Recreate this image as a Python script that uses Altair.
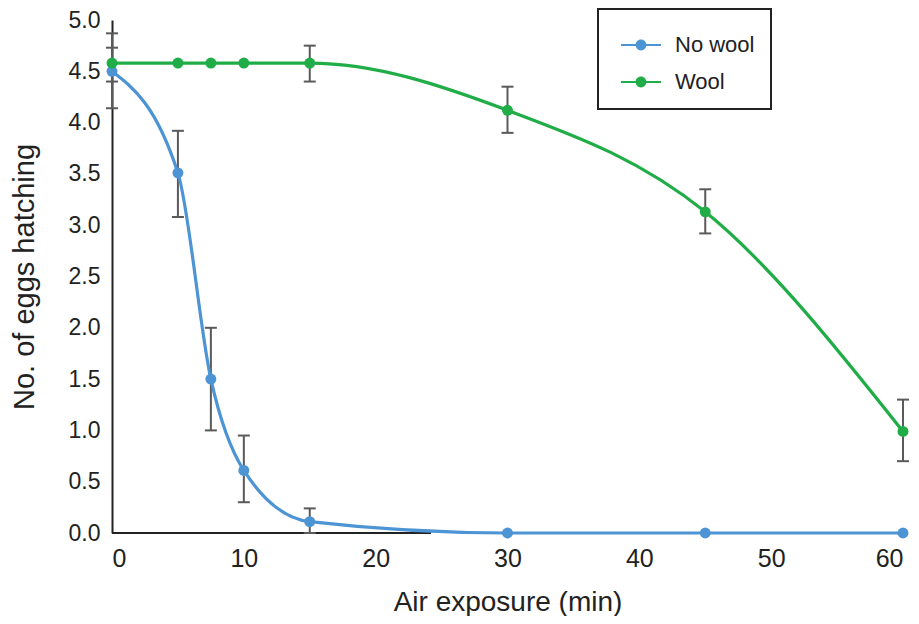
import altair as alt
import pandas as pd

# ---- data ----
minutes = [0, 5, 7.5, 10, 15, 30, 45, 60]
no_wool = [4.50, 3.51, 1.50, 0.61, 0.11, 0.0, 0.0, 0.0]
no_wool_lo = [4.14, 3.08, 1.00, 0.30, 0.0, None, None, None]
no_wool_hi = [4.87, 3.92, 2.00, 0.95, 0.24, None, None, None]
wool = [4.58, 4.58, 4.58, 4.58, 4.58, 4.12, 3.13, 0.99]
wool_lo = [4.40, None, None, None, 4.40, 3.90, 2.92, 0.70]
wool_hi = [4.73, None, None, None, 4.75, 4.35, 3.35, 1.30]
series_names = ["No wool", "Wool"]
series_colors = ["#4d94d5", "#20ad47"]
x_ticks = [0, 10, 20, 30, 40, 50, 60]
y_ticks = [0, 0.5, 1, 1.5, 2, 2.5, 3, 3.5, 4, 4.5, 5]
axis_line_x = [0, 24.2]

rows = []
err = []
for name, vals, lo, hi in [("No wool", no_wool, no_wool_lo, no_wool_hi),
                           ("Wool", wool, wool_lo, wool_hi)]:
    for m, v, l, h in zip(minutes, vals, lo, hi):
        rows.append({"min": m, "val": v, "series": name})
        if l is not None:
            err.append({"min": m, "lo": l, "hi": h, "series": name})
df = pd.DataFrame(rows)
df_err = pd.DataFrame(err)
df_axis = pd.DataFrame({"x": [axis_line_x[0]], "x2": [axis_line_x[1]], "y": [0]})

FONT = "Liberation Sans"
TXT = "#222222"
ERR = "#5a5a5a"

xs = alt.Scale(domain=[0, 60], nice=False, zero=False)
ys = alt.Scale(domain=[0, 5], nice=False)

x_enc = alt.X("min:Q", scale=xs, axis=alt.Axis(
    values=x_ticks, title="Air exposure (min)", domain=False, ticks=False,
    grid=False, labelFontSize=25, labelColor=TXT, labelPadding=13,
    titleFontSize=28, titleColor=TXT, titleFontWeight="normal", titlePadding=17,
    labelFont=FONT, titleFont=FONT))
y_enc = alt.Y("val:Q", scale=ys, axis=alt.Axis(
    values=y_ticks, format=".1f", title="No. of eggs hatching", domain=True,
    domainColor=TXT, domainWidth=2, ticks=False, grid=False,
    labelFontSize=23, labelColor=TXT, labelPadding=12,
    titleFontSize=29, titleColor=TXT, titleFontWeight="normal", titlePadding=29,
    labelFont=FONT, titleFont=FONT))

cscale = alt.Scale(domain=series_names, range=series_colors)

# line segment (as thin filled bar) + dot, both clockwise so they fill together
sym = ("M-1,-0.045L1,-0.045L1,0.045L-1,0.045Z"
       "M-0.27,0A0.27,0.27 0 1,1 0.27,0A0.27,0.27 0 1,1 -0.27,0Z")

leg = alt.Legend(
    title=None, orient="none", legendX=486, legendY=-11,
    symbolType=sym, symbolSize=1600, symbolStrokeWidth=0, symbolOffset=7,
    labelFontSize=22, labelColor=TXT, labelFont=FONT, labelOffset=14,
    labelExpr="datum.label + '\u00a0\u00a0\u00a0\u00a0\u00a0'",
    padding=16, rowPadding=6, strokeColor=TXT, fillColor="white")

axis_rule = alt.Chart(df_axis).mark_rule(color=TXT, strokeWidth=2).encode(
    x=alt.X("x:Q", scale=xs), x2="x2:Q", y=alt.Y("y:Q", scale=ys))

err_rule = alt.Chart(df_err).mark_rule(color=ERR, strokeWidth=2).encode(
    x=alt.X("min:Q", scale=xs), y=alt.Y("lo:Q", scale=ys), y2="hi:Q")
err_lo = alt.Chart(df_err).mark_tick(color=ERR, orient="horizontal",
                                     size=12, thickness=2, opacity=1).encode(
    x=alt.X("min:Q", scale=xs), y=alt.Y("lo:Q", scale=ys))
err_hi = alt.Chart(df_err).mark_tick(color=ERR, orient="horizontal",
                                     size=12, thickness=2, opacity=1).encode(
    x=alt.X("min:Q", scale=xs), y=alt.Y("hi:Q", scale=ys))

lines = alt.Chart(df).mark_line(interpolate="monotone", strokeWidth=3.2).encode(
    x=x_enc, y=y_enc,
    stroke=alt.Stroke("series:N", scale=cscale, legend=leg))
points = alt.Chart(df).mark_point(filled=True, size=120, opacity=1).encode(
    x=alt.X("min:Q", scale=xs), y=alt.Y("val:Q", scale=ys),
    color=alt.Color("series:N", scale=cscale, legend=leg))

chart = alt.layer(axis_rule, err_rule, err_lo, err_hi, lines, points).properties(
    width=791, height=513,
    autosize=alt.AutoSizeParams(type="none"),
    padding={"left": 104, "top": 12, "right": 8, "bottom": 83},
).configure_view(stroke=None).configure_legend(strokeWidth=2)

chart.save("out.html", embed_options={"renderer": "svg", "actions": False})
